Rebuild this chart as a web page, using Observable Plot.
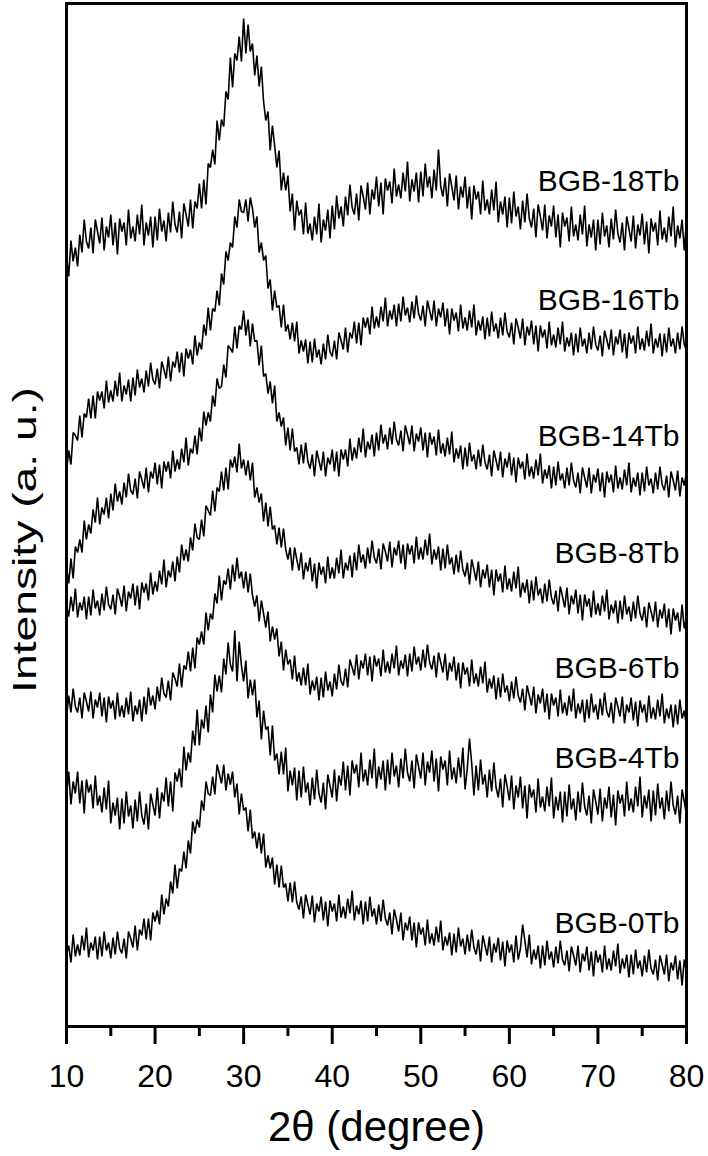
<!DOCTYPE html>
<html>
<head>
<meta charset="utf-8">
<script src="https://cdn.jsdelivr.net/npm/d3@7"></script>
<script src="https://cdn.jsdelivr.net/npm/@observablehq/plot@0.6"></script>
<style>
  html, body { margin: 0; padding: 0; background: #fff; }
  #chart svg { display: block; }
</style>
</head>
<body>
<div id="chart"></div>
<script>
// 2θ sampling grid (degrees), 0.25° steps from 10 to 80
const twoTheta = d3.range(281).map(i => 10 + i * 0.25);

// Intensities (a.u., stacked as drawn)
const bgb18 = [
772,750,786,765, 779,760,792,774, 807,785,778,799, 773,807,795,783, 809,776,800,789,
812,781,804,772, 808,795,804,781, 817,788,800,785, 812,792,822,781, 804,791,810,779,
810,786,818,795, 806,785,814,794, 825,802,794,815, 788,823,812,800, 827,798,825,818,
843,818,847,822, 863,859,877,862, 906,886,907,900, 935,927,969,939, 973,966,990,965,
1008,973,1002,975, 983,951,971,940, 960,925,906,915, 876,901,881,859, 876,836,854,836,
851,815,833,796, 826,811,817,792, 824,793,803,786, 810,792,823,784, 807,796,817,788,
821,797,831,808, 820,800,830,811, 842,819,812,833, 806,841,830,817, 844,812,837,827,
850,820,844,812, 848,836,845,823, 858,830,842,828, 854,835,865,825, 847,835,854,824,
855,830,863,839, 850,828,857,836, 877,840,830,849, 820,853,840,826, 851,817,840,829,
850,818,840,807, 841,827,835,812, 846,816,827,812, 837,816,845,804, 825,812,830,799,
829,803,835,810, 820,797,826,804, 833,808,799,818, 789,822,810,796, 822,788,811,800,
821,789,812,779, 814,800,809,785, 820,790,802,786, 812,792,821,780, 802,789,807,776,
807,782,814,790, 801,779,808,787, 817,793,784,804, 776,810,798,785, 811,778,802,791,
813,782,805,773, 808,795,804,781, 816,787,799,784, 810,790,820,779, 801,788,807,776,
807];

const bgb16 = [
555,576,562,594, 591,586,611,589, 613,609,628,608, 631,608,635,626, 635,618,646,624,
636,625,646,630, 654,625,641,632, 647,625,649,631, 657,639,648,634, 656,640,664,647,
642,658,638,665, 657,648,670,645, 665,659,675,654, 674,650,678,668, 677,662,691,671,
684,677,702,691, 719,696,718,715, 736,721,753,742, 775,766,784,779, 810,799,827,815,
814,827,805,829, 818,799,810,774, 784,766,771,738, 747,716,736,719, 721,699,722,695,
702,687,704,685, 705,673,686,675, 687,663,685,664, 688,669,677,662, 683,667,692,675,
670,686,667,694, 686,677,699,674, 694,688,705,683, 704,681,709,699, 709,692,720,698,
710,699,720,705, 729,700,716,707, 722,700,723,705, 730,711,719,704, 725,708,731,713,
706,721,700,726, 716,706,726,700, 718,709,724,700, 718,692,718,706, 714,695,722,698,
709,696,716,699, 722,691,706,696, 710,687,709,690, 715,695,703,688, 709,691,714,695,
689,704,682,708, 699,688,708,681, 700,691,706,682, 701,675,701,689, 697,678,705,681,
692,679,699,682, 705,675,689,680, 694,671,693,674, 699,680,688,673, 694,677,700,682,
676,691,670,696, 687,677,697,671, 690,682,697,674, 693,668,694,683, 691,673,700,677,
688,676,696,680, 703,673,688,679, 693,670,693,674, 699,680,688,673, 694,677,700,682,
676];

const bgb14 = [
460,443,468,448, 480,474,487,474, 506,487,502,493, 517,504,529,502, 519,512,529,508,
533,516,543,525, 535,522,544,529, 553,536,532,548, 528,555,547,538, 559,534,555,548,
564,542,562,538, 565,555,565,548, 576,555,567,557, 578,564,589,561, 578,573,591,572,
599,585,615,601, 614,605,631,620, 648,638,640,662, 649,681,678,674, 700,678,701,697,
716,691,707,680, 703,685,686,661, 681,650,653,633, 645,623,641,605, 614,600,609,581,
599,576,598,575, 579,562,582,563, 584,565,558,572, 550,576,566,556, 575,550,569,562,
577,555,575,550, 577,567,577,560, 588,566,579,568, 589,574,598,569, 585,577,592,570,
594,576,602,583, 592,577,599,582, 605,587,581,596, 575,601,592,582, 601,575,593,585,
599,576,594,569, 594,582,590,571, 597,573,583,570, 589,572,595,564, 578,568,581,557,
579,560,584,565, 572,557,577,560, 582,564,557,572, 550,576,566,556, 575,549,568,559,
574,551,569,544, 569,558,565,547, 573,550,560,548, 567,551,573,543, 557,548,561,538,
560,541,565,546, 553,538,559,541, 564,546,539,554, 533,559,549,539, 559,533,552,544,
558,535,554,529, 555,544,552,534, 561,538,549,537, 557,541,564,534, 549,540,554,531,
554,535,560,541, 548,533,554,537, 560,542,536,551, 529,555,546,536, 556,530,549,541,
555];

const bgb8 = [
421,410,430,415, 438,409,424,416, 430,407,430,411, 437,418,426,411, 433,416,440,422,
417,432,412,438, 430,420,441,415, 435,428,443,421, 441,417,444,434, 443,426,454,432,
445,435,456,442, 467,439,456,449, 465,445,470,454, 482,466,477,465, 489,476,503,489,
487,507,490,521, 516,511,536,515, 539,535,555,536, 559,537,567,559, 570,554,583,558,
567,551,566,546, 564,529,539,524, 533,505,524,500, 520,497,501,482, 499,479,498,477,
467,479,456,479, 467,456,474,447, 464,455,469,445, 463,438,464,452, 460,443,470,448,
459,448,469,453, 477,448,464,456, 471,449,474,456, 482,464,472,458, 479,463,486,469,
463,478,457,483, 475,465,485,459, 479,471,486,463, 482,457,483,472, 481,463,490,467,
479,467,487,471, 493,462,477,467, 480,456,478,458, 482,462,469,452, 472,454,476,457,
450,464,442,467, 457,446,465,439, 457,448,462,439, 457,431,457,445, 453,434,461,437,
448,435,455,438, 460,429,444,434, 447,423,446,426, 450,431,438,423, 443,425,447,429,
422,436,415,440, 430,419,439,412, 431,422,437,413, 432,406,432,420, 428,409,436,412,
423,411,431,415, 437,407,422,413, 426,403,426,407, 431,412,420,405, 425,408,431,413,
406,420,399,424, 415,405,425,399, 417,408,423,399, 418,392,418,406, 414,395,422,398,
409];

const bgb6 = [
309,331,314,338, 320,314,329,308, 334,325,315,335, 308,327,319,334, 310,329,304,330,
318,326,307,334, 310,321,309,329, 312,335,305,321, 312,327,305,330, 312,339,321,331,
317,340,325,349, 333,329,346,326, 354,348,340,363, 339,361,357,375, 355,379,358,389,
382,395,382,414, 396,413,407,433, 423,451,426,446, 442,458,437,462, 445,469,448,455,
438,455,434,453, 431,420,431,405, 426,413,399,415, 385,400,387,398, 370,385,356,377,
362,367,347,371, 345,354,341,359, 341,363,332,346, 336,350,326,349, 329,355,336,345,
330,353,337,362, 345,341,358,339, 367,359,351,372, 347,366,358,373, 351,370,345,371,
360,368,350,377, 354,365,353,373, 358,381,351,366, 358,372,350,373, 355,380,362,370,
356,377,359,382, 364,357,371,349, 374,364,354,373, 346,364,355,370, 346,364,338,364,
352,359,340,367, 343,353,340,360, 343,365,334,348, 338,351,327,349, 329,353,334,341,
325,345,328,350, 331,324,338,316, 341,331,321,340, 313,332,323,338, 314,333,307,333,
321,329,310,337, 313,324,311,331, 315,338,308,323, 313,327,304,327, 308,333,314,322,
307,328,311,334, 315,309,324,303, 329,320,310,330, 303,322,314,329, 306,325,300,326,
314,322,304,331, 308,319,307,327, 310,333,303,318, 308,322,299,322, 302,327,308,316,
300];

const bgb4 = [
230,255,222,245, 233,255,223,246, 213,247,234,242, 218,251,221,231, 214,239,217,246,
203,224,211,229, 197,228,203,235, 210,221,198,227, 205,235,211,202, 223,197,233,222,
211,239,208,234, 225,249,220,245, 215,254,245,258, 239,280,256,274, 264,296,281,317,
281,307,298,321, 294,332,314,352, 335,351,334,368, 352,384,362,355, 396,345,385,361,
345,366,328,347, 331,347,309,326, 287,316,297,300, 271,301,266,273, 252,275,252,279,
235,256,241,259, 226,256,229,260, 234,244,221,249, 227,257,233,224, 244,217,252,241,
229,257,225,251, 241,265,236,261, 231,266,253,262, 239,274,245,257, 241,267,248,278,
238,260,247,266, 236,267,242,274, 250,261,239,268, 248,278,254,245, 266,238,272,260,
248,274,241,265, 254,276,245,268, 235,270,257,266, 241,276,247,259, 243,269,249,279,
237,258,288,263, 231,261,236,267, 242,252,229,257, 235,264,239,229, 248,219,252,240,
226,251,217,241, 229,250,218,241, 208,242,229,237, 214,248,219,230, 215,240,220,249,
208,230,216,235, 204,235,210,242, 217,228,206,235, 214,244,220,211, 231,203,237,225,
212,238,205,229, 218,240,209,232, 201,236,223,232, 210,245,216,228, 214,240,220,250,
209,231,218,237, 205,236,211,243, 218,229,207,236, 215,245,221,212, 231,203,237,225,
211];

const bgb0 = [
72,81,64,92, 70,82,71,91, 76,99,69,84, 76,90,67,90, 70,95,76,84,
68,89,72,95, 78,73,88,68, 95,88,79,101, 76,97,91,108, 87,108,86,114,
105,116,102,132, 112,128,120,145, 133,162,138,158, 155,175,158,186, 173,205,193,207,
199,226,216,245, 233,231,250,232, 262,253,243,262, 236,253,242,255, 229,243,212,233,
216,219,195,217, 188,195,178,194, 173,193,159,171, 158,169,142,162, 139,161,139,143,
125,144,124,145, 124,117,130,108, 132,122,112,131, 104,123,115,130, 106,125,100,126,
115,123,105,132, 109,120,108,128, 113,136,106,121, 112,126,102,125, 105,130,110,118,
102,122,105,127, 108,101,114,92, 117,107,95,114, 86,104,96,110, 86,104,79,104,
92,99,81,107, 83,93,81,100, 84,106,76,90, 81,94,71,93, 74,99,80,88,
72,92,75,97, 79,72,87,65, 91,81,71,90, 64,83,74,89, 66,85,60,86,
74,82,64,91, 67,78,102,86, 69,92,62,77, 67,81,58,81, 61,86,67,75,
59,80,63,86, 67,61,76,55, 80,71,61,81, 54,73,65,80, 56,75,50,76,
64,72,54,81, 57,68,56,76, 60,83,53,68, 58,72,49,72, 52,77,58,66,
50,71,54,77, 58,52,67,46, 71,62,52,72, 45,64,56,71, 47,66,41,67,
54];

const seriesNames = ["BGB-18Tb", "BGB-16Tb", "BGB-14Tb", "BGB-8Tb", "BGB-6Tb", "BGB-4Tb", "BGB-0Tb"];
const seriesValues = [bgb18, bgb16, bgb14, bgb8, bgb6, bgb4, bgb0];
const labelLevel = [845, 726, 590, 473, 358, 268, 103];

const xMajorTicks = [10, 20, 30, 40, 50, 60, 70, 80];
const xMinorTicks = [15, 25, 35, 45, 55, 65, 75];
const xTitle = "2θ (degree)";
const yTitle = "Intensity (a. u.)";

// Build tidy tables
const rows = [];
seriesNames.forEach((name, s) => {
  seriesValues[s].forEach((v, i) => rows.push({series: name, x: twoTheta[i], y: v}));
});
const labels = seriesNames.map((name, s) => ({name, y: labelLevel[s]}));

const chart = Plot.plot({
  width: 708,
  height: 1156,
  marginLeft: 66,
  marginRight: 22,
  marginTop: 3,
  marginBottom: 130,
  style: {fontFamily: "'Liberation Sans', Arial, Helvetica, sans-serif", background: "#fff", color: "#000"},
  x: {domain: [10, 80]},
  y: {domain: [0, 1023], axis: null},
  marks: [
    Plot.line(rows, {x: "x", y: "y", z: "series", stroke: "#000", strokeWidth: 1.6, strokeLinejoin: "miter"}),
    Plot.text(labels, {x: () => 80, y: "y", text: "name", textAnchor: "end", dx: -7, fontSize: 30, fill: "#000"}),
    Plot.axisX({ticks: xMinorTicks, tickSize: 10, strokeWidth: 3, tickFormat: () => "", label: null}),
    Plot.axisX({ticks: xMajorTicks, tickSize: 18, tickPadding: 20, strokeWidth: 3, fontSize: 32, label: null, tickFormat: d => String(d)}),
    Plot.text([xTitle], {frameAnchor: "bottom", text: d => d, lineAnchor: "middle", textAnchor: "middle", dy: 100.6, fontSize: 42, fill: "#000"}),
    Plot.text([yTitle], {frameAnchor: "left", text: d => d, rotate: -90, lineAnchor: "middle", textAnchor: "middle", dx: -41, dy: 25, fontSize: 34, fill: "#000"}),
    Plot.frame({stroke: "#000", strokeWidth: 3})
  ]
});

// Stretch the y title along its length to match the reference's tall lettering
d3.select(chart).selectAll("text").filter(function () { return this.textContent === yTitle; })
  .each(function () {
    const t = this.getAttribute("transform") || "";
    this.setAttribute("transform", t + " scale(1.36,1)");
  });

document.getElementById("chart").appendChild(chart);
</script>
</body>
</html>
